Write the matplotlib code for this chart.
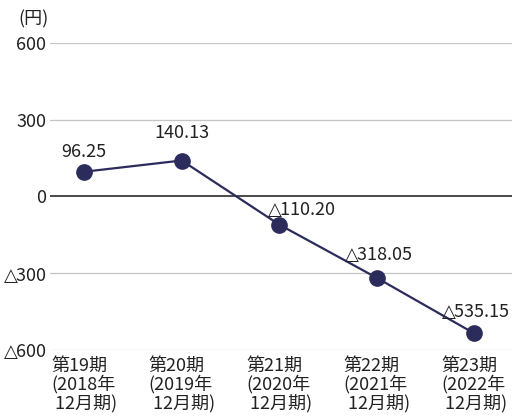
import matplotlib
matplotlib.use("Agg")
import matplotlib.pyplot as plt

plt.rcParams['font.family'] = ['Noto Sans CJK JP', 'DejaVu Sans']
plt.rcParams['mathtext.fontset'] = 'dejavusans'

TRI = "$\\triangle\\!\\!$"

periodos = ["第19期\n(2018年\n 12月期)", "第20期\n(2019年\n 12月期)", "第21期\n(2020年\n 12月期)",
            "第22期\n(2021年\n 12月期)", "第23期\n(2022年\n 12月期)"]
valores = [96.25, 140.13, -110.20, -318.05, -535.15]
rotulos = ["96.25", "140.13", TRI + "110.20", TRI + "318.05", TRI + "535.15"]
yticks = [600, 300, 0, -300, -600]
yticklabels = ["600", "300", "0", TRI + "300", TRI + "600"]

cor = "#2b2c5c"
txt = "#222222"

fig = plt.figure(figsize=(5.12, 4.16), dpi=100)
ax = fig.add_axes([0.098, 0.159, 0.902, 0.738])

for y in yticks:
    if y == 0:
        ax.axhline(y, color="#4a4a4a", lw=1.4, zorder=1)
    else:
        ax.axhline(y, color="#c4c4c4", lw=0.9, zorder=1)

x = list(range(len(valores)))
ax.plot(x, valores, color=cor, lw=1.6, marker="o", markersize=11, zorder=3)

# deslocamento dos rótulos (pontos)
offsets = [(0, 14), (0, 20), (15, 11), (0, 17), (0, 16)]
for i, (v, r) in enumerate(zip(valores, rotulos)):
    ax.annotate(r, (i, v), xytext=offsets[i], textcoords="offset points",
                ha="center", va="center", fontsize=13, color=txt)

ax.set_xlim(-0.35, 4.39)
ax.set_ylim(-600, 600)
ax.set_yticks(yticks)
ax.set_yticklabels(yticklabels, fontsize=13, color=txt)
ax.set_xticks(x)
ax.set_xticklabels(periodos, fontsize=13, color=txt, linespacing=1.0,
                   multialignment="left")
ax.tick_params(length=0, pad=3)
ax.tick_params(axis="x", pad=5)
for s in ax.spines.values():
    s.set_visible(False)

fig.text(0.035, 0.954, "(円)", fontsize=13, color=txt, ha="left", va="center")

plt.savefig("out.png", dpi=100)
